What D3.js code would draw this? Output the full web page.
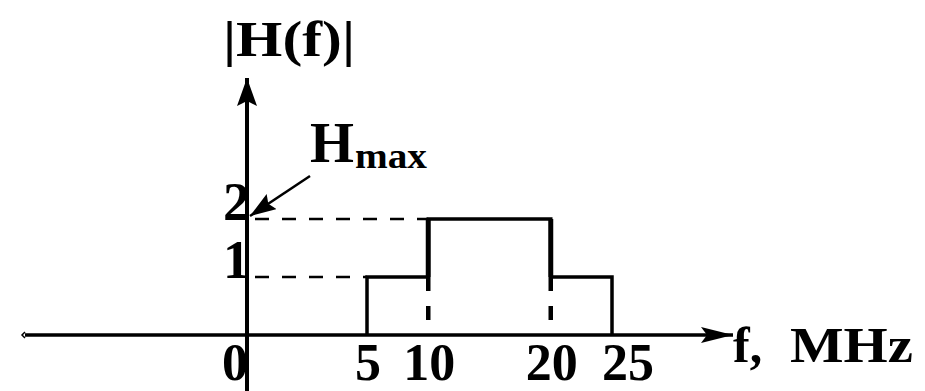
<!DOCTYPE html>
<html>
<head>
<meta charset="utf-8">
<script src="https://cdn.jsdelivr.net/npm/d3@7/dist/d3.min.js"></script>
<style>
  html, body { margin: 0; padding: 0; background: #fff; }
  svg { display: block; }
  text { font-family: "Liberation Serif", "DejaVu Serif", serif; font-weight: bold; fill: #000; }
</style>
</head>
<body>
<svg id="chart" width="925" height="391"></svg>
<script>
// Band edges of the filter (MHz) and magnitude in each band
const bandEdges = [5, 10, 20, 25];
const bandGains = [1, 2, 1];
const xTickValues = [0, 5, 10, 20, 25];
const yTickValues = [1, 2];
const maxGain = 2;

const svg = d3.select("#chart");
const W = 925, H = 391;

// Frequency axis is stretched between 0 and 5, uniform from 5 on
const x = d3.scaleLinear().domain([0, 5, 25]).range([247, 367, 612]);
const y = d3.scaleLinear().domain([0, maxGain]).range([335, 219]);

const x0 = x(0), y0 = y(0);

// arrow markers
const defs = svg.append("defs");
defs.append("marker")
  .attr("id", "arrowUp").attr("viewBox", "0 0 20 28")
  .attr("refX", 10).attr("refY", 0)
  .attr("markerWidth", 20).attr("markerHeight", 28)
  .attr("markerUnits", "userSpaceOnUse").attr("orient", "0")
  .append("path").attr("d", "M10,0 L20,28 L10,23 L0,28 Z").attr("fill", "#000");
defs.append("marker")
  .attr("id", "arrowRight").attr("viewBox", "0 0 32 16")
  .attr("refX", 32).attr("refY", 8)
  .attr("markerWidth", 32).attr("markerHeight", 16)
  .attr("markerUnits", "userSpaceOnUse").attr("orient", "0")
  .append("path").attr("d", "M32,8 L0,0 L6,8 L0,16 Z").attr("fill", "#000");
defs.append("marker")
  .attr("id", "arrowPointer").attr("viewBox", "0 0 26 18")
  .attr("refX", 26).attr("refY", 9)
  .attr("markerWidth", 26).attr("markerHeight", 18)
  .attr("markerUnits", "userSpaceOnUse").attr("orient", "auto")
  .append("path").attr("d", "M26,9 L0,0 L4,9 L0,18 Z").attr("fill", "#000");

// horizontal axis
svg.append("line")
  .attr("x1", 25).attr("y1", y0).attr("x2", 733).attr("y2", y0)
  .attr("stroke", "#000").attr("stroke-width", 3.5)
  .attr("marker-end", "url(#arrowRight)");
svg.append("path")
  .attr("d", `M25,${y0 - 3} L22,${y0} L25,${y0 + 3}`)
  .attr("fill", "none").attr("stroke", "#000").attr("stroke-width", 1.5);

// vertical axis
svg.append("line")
  .attr("x1", x0).attr("y1", H).attr("x2", x0).attr("y2", 78)
  .attr("stroke", "#000").attr("stroke-width", 4)
  .attr("marker-end", "url(#arrowUp)");

// dashed guides from the vertical axis to the first edge at each level
yTickValues.forEach(v => {
  const idx = bandGains.indexOf(v);
  svg.append("line")
    .attr("x1", x0 + 4).attr("y1", y(v))
    .attr("x2", x(bandEdges[idx])).attr("y2", y(v))
    .attr("stroke", "#000").attr("stroke-width", 2.6)
    .attr("stroke-dasharray", "14,13").attr("stroke-dashoffset", -4);
});

// dashed drops under the inner edges
for (let i = 1; i < bandEdges.length - 1; i++) {
  const low = Math.min(bandGains[i - 1], bandGains[i]);
  svg.append("line")
    .attr("x1", x(bandEdges[i])).attr("y1", y(low))
    .attr("x2", x(bandEdges[i])).attr("y2", y0)
    .attr("stroke", "#000").attr("stroke-width", 4.5)
    .attr("stroke-dasharray", "14,15");
}

// magnitude response as a step curve
const pts = [[bandEdges[0], 0]];
bandGains.forEach((g, i) => {
  pts.push([bandEdges[i], g]);
  pts.push([bandEdges[i + 1], g]);
});
pts.push([bandEdges[bandEdges.length - 1], 0]);
svg.append("path")
  .attr("d", d3.line().x(d => x(d[0])).y(d => y(d[1]))(pts))
  .attr("fill", "none").attr("stroke", "#000").attr("stroke-width", 3.5)
  .attr("stroke-linejoin", "miter");
// heavier risers at the inner edges
for (let i = 1; i < bandEdges.length - 1; i++) {
  svg.append("line")
    .attr("x1", x(bandEdges[i])).attr("y1", y(bandGains[i - 1]))
    .attr("x2", x(bandEdges[i])).attr("y2", y(bandGains[i]))
    .attr("stroke", "#000").attr("stroke-width", 5);
}

// frequency tick labels
svg.selectAll("text.xt").data(xTickValues).enter().append("text")
  .attr("class", "xt")
  .attr("x", (d, i) => i === 0 ? x0 + 1 : x(d) + (i === xTickValues.length - 1 ? 16 : 1))
  .attr("y", 380)
  .attr("text-anchor", (d, i) => i === 0 ? "end" : "middle")
  .attr("font-size", 52)
  .text(d => d);

// magnitude tick labels
svg.selectAll("text.yt").data(yTickValues).enter().append("text")
  .attr("class", "yt")
  .attr("x", x0 + 3).attr("y", d => y(d) + 1)
  .attr("text-anchor", "end")
  .attr("font-size", 54)
  .text(d => d);

// axis titles
svg.append("text")
  .attr("x", 223).attr("y", 56)
  .attr("font-size", 50)
  .attr("textLength", 132).attr("lengthAdjust", "spacingAndGlyphs")
  .text("|H(f)|");

svg.append("text")
  .attr("x", 733).attr("y", 362)
  .attr("font-size", 50)
  .text("f,");
svg.append("text")
  .attr("x", 790).attr("y", 362)
  .attr("font-size", 50)
  .attr("textLength", 123).attr("lengthAdjust", "spacingAndGlyphs")
  .text("MHz");

// Hmax annotation with pointer to the peak level
svg.append("text").attr("x", 310).attr("y", 162).attr("font-size", 57)
  .attr("textLength", 44).attr("lengthAdjust", "spacingAndGlyphs")
  .text("H");
svg.append("text").attr("x", 355).attr("y", 168).attr("font-size", 35)
  .attr("font-weight", "600")
  .attr("textLength", 72).attr("lengthAdjust", "spacingAndGlyphs")
  .text("max");

svg.append("line")
  .attr("x1", 310).attr("y1", 176)
  .attr("x2", x0 + 3).attr("y2", y(maxGain) - 3)
  .attr("stroke", "#000").attr("stroke-width", 2.5)
  .attr("marker-end", "url(#arrowPointer)");
</script>
</body>
</html>
